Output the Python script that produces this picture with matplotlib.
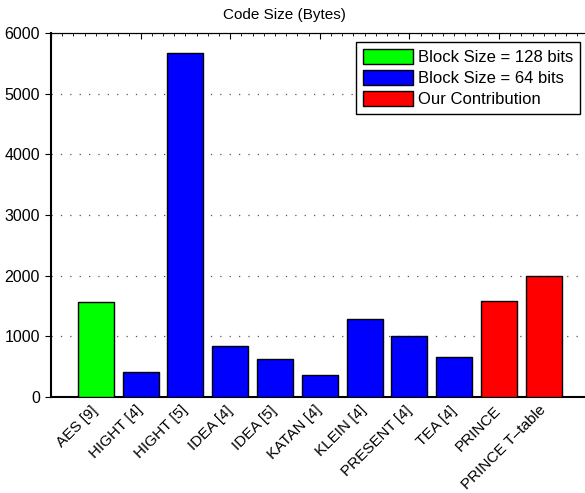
import numpy as np
import matplotlib
matplotlib.use('Agg')
import matplotlib.pyplot as plt
import matplotlib.transforms as mtransforms
from matplotlib.ticker import MultipleLocator
from matplotlib.patches import Patch

plt.rcParams['font.family'] = ['Liberation Sans', 'DejaVu Sans']

names = ['AES [9]', 'HIGHT [4]', 'HIGHT [5]', 'IDEA [4]', 'IDEA [5]', 'KATAN [4]',
         'KLEIN [4]', 'PRESENT [4]', 'TEA [4]', 'PRINCE', 'PRINCE T\u2013table']
code_size = [1570, 410, 5665, 840, 620, 360, 1290, 1000, 660, 1590, 2000]
group = [0, 1, 1, 1, 1, 1, 1, 1, 1, 2, 2]
group_labels = ['Block Size = 128 bits', 'Block Size = 64 bits', 'Our Contribution']
group_colors = ['#00ff00', '#0000ff', '#ff0000']

fig = plt.figure(figsize=(5.85, 4.93), dpi=100)
ax = fig.add_axes([51/585, 96/493, 537.6/585, 364/493])

x = np.arange(1, len(names) + 1)
cols = [group_colors[g] for g in group]
ax.bar(x, code_size, width=0.8, color=cols, edgecolor='black', linewidth=1, zorder=3)

ax.set_xlim(0, 12)
ax.set_ylim(0, 6000)
ax.set_yticks(np.arange(0, 6001, 1000))
ax.set_xticks(x)
ax.set_xticklabels(names, rotation=45, ha='right', va='top', rotation_mode='anchor', fontsize=11)
ax.tick_params(axis='x', which='both', bottom=False, top=False, pad=1)
ax.tick_params(axis='y', labelsize=11.5, length=4, direction='out', width=0.8, pad=4)
ax.yaxis.grid(True, linestyle=(0, (1, 6.5)), color='#555555', linewidth=0.9, zorder=0)

# nudge rotated labels so their ends sit under the bar centres
shift = mtransforms.ScaledTranslation(-5/100, 0, fig.dpi_scale_trans)
for lab in ax.get_xticklabels():
    lab.set_transform(lab.get_transform() + shift)

# top axis ticks (every second bar, with minor ticks)
top = ax.secondary_xaxis('top')
top.set_xticks(np.arange(0, 13, 2))
top.xaxis.set_minor_locator(MultipleLocator(0.25))
top.tick_params(which='major', length=4, direction='in', labeltop=False, width=0.8)
top.tick_params(which='minor', length=2, direction='in', width=0.6)

for s in ['left', 'bottom']:
    ax.spines[s].set_linewidth(1.5)
for s in ['top', 'right']:
    ax.spines[s].set_linewidth(0.8)

fig.text(284/585, 1 - 15/493, 'Code Size (Bytes)', fontsize=11, ha='center', va='center')

handles = [Patch(facecolor=c, edgecolor='black') for c in group_colors]
leg = ax.legend(handles, group_labels, loc='upper right', fontsize=12, frameon=True,
                fancybox=False, framealpha=1, edgecolor='black', handlelength=3.0,
                handleheight=1.0, handletextpad=0.3, borderpad=0.4, labelspacing=0.3,
                borderaxespad=0)
leg.set_bbox_to_anchor((580/585, 1 - 42/493), transform=fig.transFigure)
leg.set_zorder(5)
leg.get_frame().set_linewidth(1)

fig.savefig('out.png', dpi=100)
